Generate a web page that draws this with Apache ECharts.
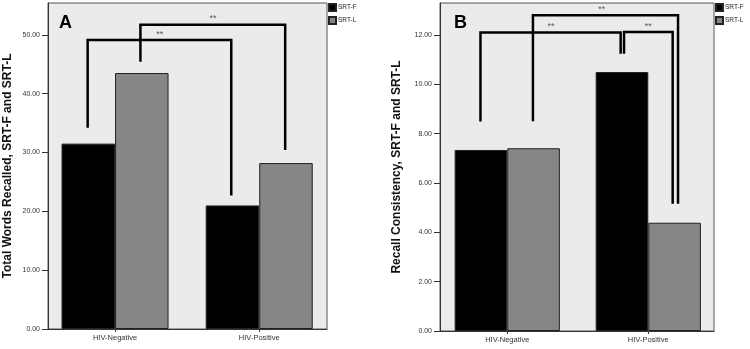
<!DOCTYPE html>
<html>
<head>
<meta charset="utf-8">
<script src="https://cdn.jsdelivr.net/npm/echarts@6/dist/echarts.min.js"></script>
<style>
  html, body { margin: 0; padding: 0; background: #fff; }
  #chart { width: 750px; height: 349px; }
</style>
</head>
<body>
<div id="chart"></div>
<script>
var chart = echarts.init(document.getElementById("chart"), null, { renderer: 'canvas' });

// categories + series
var groups = ['HIV-Negative', 'HIV-Positive'];
var legendNames = ['SRT-F', 'SRT-L'];

// panel A: total words recalled
var wordsF = [31.5, 21.0];
var wordsL = [43.5, 28.2];
var ticksA = [0, 10, 20, 30, 40, 50];

// panel B: recall consistency
var consF = [7.34, 10.50];
var consL = [7.41, 4.39];
var ticksB = [0, 2, 4, 6, 8, 10, 12];

// significance brackets (x in group units, y in axis units)
var bracketsA = [
  [[-0.19, 34.2], [-0.19, 49.1], [0.806, 49.1], [0.806, 22.7]],
  [[0.176, 45.4], [0.176, 51.7], [1.18, 51.7], [1.18, 30.4]]
];
var starsA = [[0.31, 49.1], [0.68, 51.7]];

var bracketsB = [
  [[-0.19, 8.49], [-0.19, 12.10], [0.804, 12.10], [0.804, 11.24]],
  [[0.182, 8.51], [0.182, 12.80], [1.211, 12.80], [1.211, 5.16]],
  [[0.828, 11.24], [0.828, 12.12], [1.173, 12.12], [1.173, 5.16]]
];
var starsB = [[0.31, 12.10], [0.67, 12.80], [1.0, 12.12]];

var FONT = 'Liberation Sans';

function toPairs(vals) {
  return vals.map(function (v, i) { return [i, v]; });
}

function xAxisFor(gridIndex, min, max) {
  return {
    type: 'value',
    gridIndex: gridIndex,
    min: min,
    max: max,
    axisLine: { show: true, onZero: false, lineStyle: { color: '#333', width: 1 } },
    axisTick: { show: true, inside: false, customValues: [0, 1], length: 3, lineStyle: { color: '#333' } },
    axisLabel: {
      customValues: [0, 1],
      formatter: function (v) { return groups[Math.round(v)]; },
      color: '#333', fontSize: 7.5, fontFamily: FONT, margin: 5
    },
    splitLine: { show: false }
  };
}

function yAxisFor(gridIndex, max, ticks, name, gap) {
  return {
    type: 'value',
    gridIndex: gridIndex,
    min: 0,
    max: max,
    name: name,
    nameLocation: 'middle',
    nameGap: gap,
    nameTextStyle: { fontSize: 12, fontWeight: 'bold', fontFamily: FONT, color: '#111' },
    axisLine: { show: true, onZero: false, lineStyle: { color: '#333', width: 1 } },
    axisTick: { show: true, inside: false, customValues: ticks, length: 6, lineStyle: { color: '#333' } },
    axisLabel: {
      customValues: ticks,
      formatter: function (v) { return v.toFixed(2); },
      color: '#333', fontSize: 7, fontFamily: FONT, margin: 8
    },
    splitLine: { show: false }
  };
}

function barSeries(name, idx, data, color, width) {
  return {
    name: name,
    type: 'bar',
    xAxisIndex: idx,
    yAxisIndex: idx,
    data: toPairs(data),
    barWidth: width,
    barGap: '0%',
    itemStyle: { color: color, borderColor: '#222', borderWidth: 1 },
    animation: false
  };
}

function bracketSeries(idx, pts) {
  return {
    type: 'line',
    xAxisIndex: idx,
    yAxisIndex: idx,
    data: pts,
    symbol: 'none',
    lineStyle: { color: '#000', width: 2.5, cap: 'butt', join: 'miter' },
    silent: true,
    animation: false
  };
}

function starSeries(idx, pts) {
  return {
    type: 'scatter',
    xAxisIndex: idx,
    yAxisIndex: idx,
    data: pts,
    symbolSize: 1,
    itemStyle: { color: 'rgba(0,0,0,0)' },
    label: {
      show: true, position: 'top', distance: 1,
      formatter: '**', color: '#333', fontSize: 9, fontFamily: FONT
    },
    silent: true,
    animation: false
  };
}

var series = [
  barSeries('SRT-F', 0, wordsF, '#000000', 53.5),
  barSeries('SRT-L', 0, wordsL, '#868686', 53.5),
  barSeries('SRT-F', 1, consF, '#000000', 52.6),
  barSeries('SRT-L', 1, consL, '#868686', 52.6)
];
bracketsA.forEach(function (b) { series.push(bracketSeries(0, b)); });
bracketsB.forEach(function (b) { series.push(bracketSeries(1, b)); });
series.push(starSeries(0, starsA));
series.push(starSeries(1, starsB));

function legendAt(left) {
  return {
    data: legendNames,
    orient: 'vertical',
    left: left,
    top: 3,
    padding: 0,
    itemWidth: 7,
    itemHeight: 7,
    itemGap: 4,
    icon: 'rect',
    selectedMode: false,
    textStyle: { fontSize: 6.5, fontFamily: FONT, color: '#222', padding: [0, 0, 0, -3] }
  };
}

chart.setOption({
  backgroundColor: '#fff',
  animation: false,
  title: [
    { text: 'A', left: 59, top: 14, padding: 0, textStyle: { fontSize: 18, fontWeight: 'bold', fontFamily: FONT, color: '#000' } },
    { text: 'B', left: 454, top: 14, padding: 0, textStyle: { fontSize: 18, fontWeight: 'bold', fontFamily: FONT, color: '#000' } }
  ],
  legend: [legendAt(328), legendAt(715)],
  grid: [
    { left: 48, top: 3, width: 279, height: 326, show: true, backgroundColor: '#ebebeb', borderColor: '#555', borderWidth: 1 },
    { left: 440, top: 3, width: 274, height: 328, show: true, backgroundColor: '#ebebeb', borderColor: '#555', borderWidth: 1 }
  ],
  xAxis: [xAxisFor(0, -0.465, 1.47), xAxisFor(1, -0.477, 1.466)],
  yAxis: [
    yAxisFor(0, 55.4, ticksA, 'Total Words Recalled, SRT-F and SRT-L', 34),
    yAxisFor(1, 13.3, ticksB, 'Recall Consistency, SRT-F and SRT-L', 37)
  ],
  series: series
});
</script>
</body>
</html>
